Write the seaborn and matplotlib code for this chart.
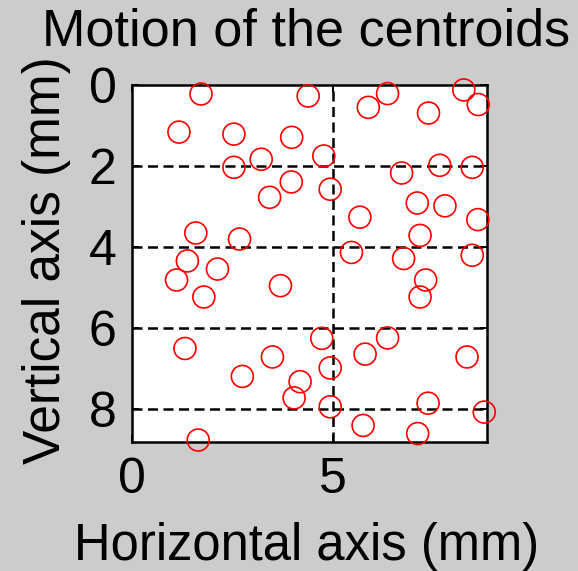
import matplotlib
matplotlib.use("Agg")
import matplotlib.pyplot as plt
import seaborn as sns
import pandas as pd

# Centroid positions (mm)
x_mm = [1.72, 4.39, 6.37, 5.89, 8.27, 8.63, 7.39, 1.17, 2.54, 3.98,
        3.22, 4.78, 2.54, 6.72, 7.67, 8.48, 3.97, 4.94, 3.43, 7.11,
        7.80, 5.68, 8.62, 1.59, 2.68, 7.18, 5.47, 6.77, 8.48, 1.38,
        2.13, 1.11, 7.32, 7.18, 1.79, 3.70, 4.73, 6.37, 1.32, 5.81,
        3.50, 8.35, 4.94, 2.75, 4.19, 4.04, 4.94, 7.38, 8.78, 5.76,
        7.12, 1.65]
y_mm = [0.22, 0.27, 0.21, 0.55, 0.12, 0.48, 0.69, 1.16, 1.21, 1.29,
        1.83, 1.75, 2.03, 2.17, 1.98, 2.03, 2.39, 2.57, 2.77, 2.91,
        2.98, 3.26, 3.32, 3.65, 3.80, 3.71, 4.13, 4.28, 4.20, 4.34,
        4.54, 4.81, 4.81, 5.23, 5.23, 4.95, 6.25, 6.24, 6.50, 6.64,
        6.71, 6.71, 6.98, 7.19, 7.32, 7.72, 7.94, 7.85, 8.07, 8.40,
        8.60, 8.76]
x_ticks = [0, 5]
y_ticks = [0, 2, 4, 6, 8]

df = pd.DataFrame({"x": x_mm, "y": y_mm})

sns.set_style("white")
plt.rcParams["font.family"] = ["Liberation Sans", "DejaVu Sans"]

fig = plt.figure(figsize=(5.78, 5.71), dpi=100, facecolor="#cccccc")
ax = fig.add_axes([0.2284, 0.2265, 0.6136, 0.6245])
ax.set_facecolor("white")

sns.scatterplot(data=df, x="x", y="y", ax=ax, marker="o", s=250,
                facecolor="none", edgecolor="red", linewidth=1.2,
                clip_on=False, zorder=3)

ax.set_xlim(0, 8.84)
ax.set_ylim(8.8, 0)
ax.set_xticks(x_ticks)
ax.set_yticks(y_ticks)
ax.set_xticklabels([str(v) for v in x_ticks])
ax.set_yticklabels([str(v) for v in y_ticks])

# dashed grid at the tick positions
for v in x_ticks[1:]:
    ax.axvline(v, color="black", linestyle=(0, (4, 2.2)), linewidth=1.8, zorder=2)
for v in y_ticks[1:]:
    ax.axhline(v, color="black", linestyle=(0, (4, 2.2)), linewidth=1.8, zorder=2)

for sp in ax.spines.values():
    sp.set_color("black")
    sp.set_linewidth(1.8)

ax.tick_params(axis="both", direction="in", length=5, width=1.4,
               labelsize=36, colors="black", pad=11,
               top=True, right=True, left=True, bottom=True)

ax.set_title("Motion of the centroids", fontsize=37.5, color="black",
             pad=0, x=0.4905, y=1.112, va="baseline")
ax.set_xlabel("Horizontal axis (mm)", fontsize=36.5, color="black",
              va="baseline")
ax.xaxis.set_label_coords(0.4925, -0.3317)
ax.set_ylabel("Vertical axis (mm)", fontsize=37, color="black",
              va="baseline")
ax.yaxis.set_label_coords(-0.203, 0.508)

fig.savefig("out.png", dpi=100, facecolor=fig.get_facecolor())
